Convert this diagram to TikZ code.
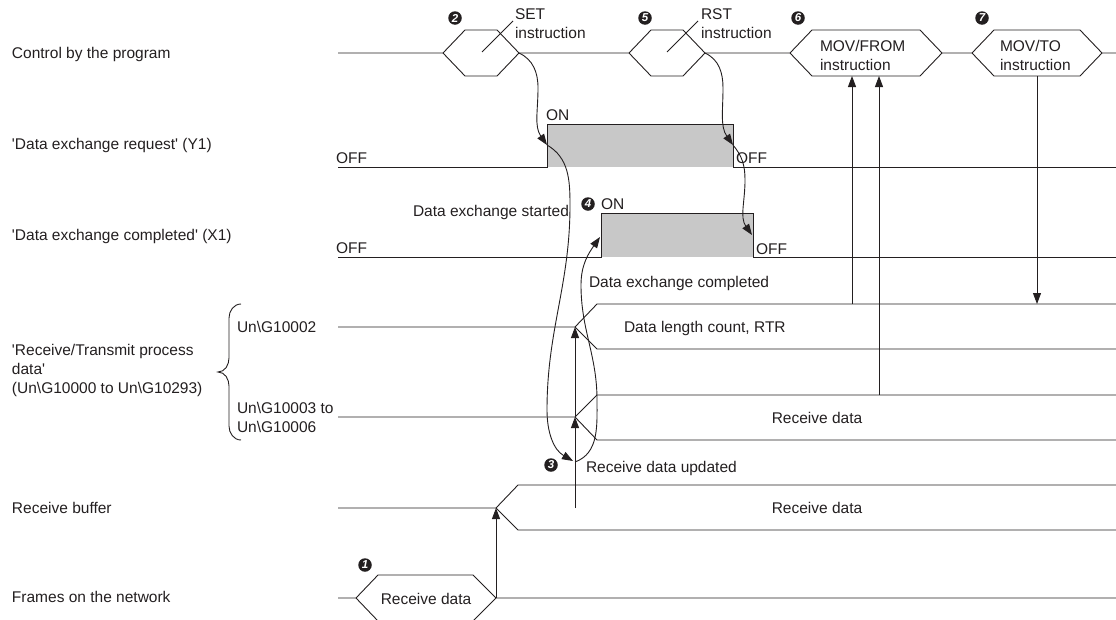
\documentclass[tikz,border=0pt]{standalone}
\usepackage{fontspec}
\setmainfont{Liberation Sans}
\usetikzlibrary{arrows.meta}
\definecolor{ink}{RGB}{35,31,32}
\definecolor{pulse}{RGB}{200,200,200}
\newcommand{\q}{\textquotesingle}
\newcommand{\bs}{\textbackslash}
\begin{document}
\begin{tikzpicture}[x=1pt,y=-1pt,
  every node/.style={inner sep=0pt, outer sep=0pt, text=ink, font=\fontsize{15.5}{19}\selectfont},
  wire/.style={draw=ink, line width=0.9pt},
  arr/.style={wire, -{Triangle[length=11pt,width=8pt]}},
  cnum/.style={circle, fill=ink, minimum size=13.5pt, text=white, font=\fontsize{11.5}{11.5}\selectfont\bfseries\itshape},
  lbl/.style={anchor=west, align=left},
  sig/.style={anchor=south west},
]
\clip (0,0) rectangle (1116,619);
% ---------- left labels
\node[lbl] (lctl) at (12,54) {Control by the program};
\node[lbl] (lder) at (12,145) {\q Data exchange request\q{} (Y1)};
\node[lbl] (ldec) at (12,236) {\q Data exchange completed\q{} (X1)};
\node[lbl] (lrt) at (12,370) {\q Receive/Transmit process\\data\q\\(Un\bs G10000 to Un\bs G10293)};
\node[lbl] (lrb) at (12,508) {Receive buffer};
\node[lbl] (lfr) at (12,597) {Frames on the network};
% brace
\draw[wire] (241,304) to[out=180,in=90] (229,318) -- (229,358) to[out=-90,in=0] (218,372)
            to[out=0,in=90] (229,386) -- (229,426) to[out=-90,in=180] (241,440);
\node[lbl] (lg2) at (237,327) {Un\bs G10002};
\node[lbl] (lg3) at (237,417) {Un\bs G10003 to\\Un\bs G10006};
% ---------- control line with instruction hexagons
\coordinate (setL) at (443,53);  \coordinate (setR) at (519,53);
\coordinate (rstL) at (629,53);  \coordinate (rstR) at (705,53);
\coordinate (movfL) at (790,53); \coordinate (movfR) at (942,53);
\coordinate (movtL) at (972,53); \coordinate (movtR) at (1102,53);
\draw[wire] (338,53) -- (setL) -- ++(22,-23) -- (497,30) -- (setR) -- (rstL) -- ++(22,-23) -- (683,30) -- (rstR)
   -- (movfL) -- ++(22,-23) -- (920,30) -- (movfR) -- (movtL) -- ++(22,-23) -- (1080,30) -- (movtR) -- (1116,53);
\draw[wire] (setL) -- ++(22,23) -- (497,76) -- (setR);
\draw[wire] (rstL) -- ++(22,23) -- (683,76) -- (rstR);
\draw[wire] (movfL) -- ++(22,23) -- (920,76) -- (movfR);
\draw[wire] (movtL) -- ++(22,23) -- (1080,76) -- (movtR);
\draw[wire] (482,52) -- (513,21);
\draw[wire] (667,52) -- (698,21);
\node[lbl] (tset) at (515,24) {SET\\instruction};
\node[lbl] (trst) at (701,24) {RST\\instruction};
\node[lbl] (tmovf) at (820,55) {MOV/FROM\\instruction};
\node[lbl] (tmovt) at (1000,55) {MOV/TO\\instruction};
\node[cnum] (n2) at (455,18) {2};
\node[cnum] (n5) at (645,18) {5};
\node[cnum] (n6) at (798,18) {6};
\node[cnum] (n7) at (982,18) {7};
% ---------- Data exchange request (Y1)
\fill[pulse] (547,124) rectangle (733,167);
\coordinate (derR) at (547,145); \coordinate (derF) at (733,145);
\draw[wire] (338,167) -- (547,167) -- (547,124) -- (733,124) -- (733,167) -- (1116,167);
\node[sig] (off1) at (336,164) {OFF};
\node[sig] (on1) at (546,121) {ON};
\node[sig] (off2) at (736,164) {OFF};
% ---------- Data exchange completed (X1)
\fill[pulse] (601,213) rectangle (753,257);
\coordinate (decR) at (600,237); \coordinate (decF) at (752,235);
\draw[wire] (338,257) -- (601,257) -- (601,213) -- (753,213) -- (753,257) -- (1116,257);
\node[sig] (off3) at (336,254) {OFF};
\node[sig] (on2) at (601,210) {ON};
\node[sig] (off4) at (756,255) {OFF};
\node[cnum] (n4) at (588,204) {4};
\node[anchor=east] (tdes) at (569,212) {Data exchange started};
\node[anchor=west] (tdec) at (589,283) {Data exchange completed};
% ---------- Receive/Transmit process data
\coordinate (g2x) at (575,327); \coordinate (g3x) at (575,417);
\draw[wire] (338,327) -- (g2x) -- (597,304) -- (1116,304);
\draw[wire] (g2x) -- (597,349) -- (1116,349);
\draw[wire] (338,417) -- (g3x) -- (597,395) -- (1116,395);
\draw[wire] (g3x) -- (597,440) -- (1116,440);
\node[anchor=west] (tdl) at (624,328) {Data length count, RTR};
\node (trd1) at (817,418) {Receive data};
% ---------- Receive buffer
\coordinate (rbx) at (496,508); \coordinate (rbv) at (575,508);
\draw[wire] (338,508) -- (rbx) -- (518,485) -- (1116,485);
\draw[wire] (rbx) -- (518,530) -- (1116,530);
\node (trd2) at (817,508) {Receive data};
% ---------- Frames on the network
\coordinate (frx) at (496,598);
\draw[wire] (338,598) -- (356,598) -- (378,575) -- (473,575) -- (frx) -- (1116,598);
\draw[wire] (356,598) -- (378,621) -- (473,621) -- (frx);
\node (trd3) at (426,599) {Receive data};
\node[cnum] (n1) at (365,565) {1};
% ---------- vertical arrows
\draw[arr] (frx) -- (rbx);
\draw[arr] (rbv) -- (g3x);
\draw[arr] (g3x) -- (g2x);
\draw[arr] (852,304) -- (852,76);
\draw[arr] (879,395) -- (879,76);
\draw[arr] (1037,76) -- (1037,304);
% ---------- curved arrows
\coordinate (upd) at (573,461);
\draw[arr] (setR) to[out=-25,in=90] (538,88) to[out=-90,in=125] (derR);
\draw[arr] (rstR) to[out=-25,in=90] (723,88) to[out=-90,in=125] (derF);
\draw[arr] (derF) to[out=-50,in=90] (745,180) to[out=-90,in=125] (decF);
\draw[arr] (derR) to[out=-30,in=90] (570,205) to[out=-90,in=90] (547,410) to[out=-90,in=150] (upd);
\draw[arr] (575,462) to[out=20,in=-90] (597,400) to[out=90,in=-90] (581,285) to[out=90,in=-125] (decR);
\node[cnum] (n3) at (551,465) {3};
\node[anchor=west] (trdu) at (586,468) {Receive data updated};
\end{tikzpicture}
\end{document}
